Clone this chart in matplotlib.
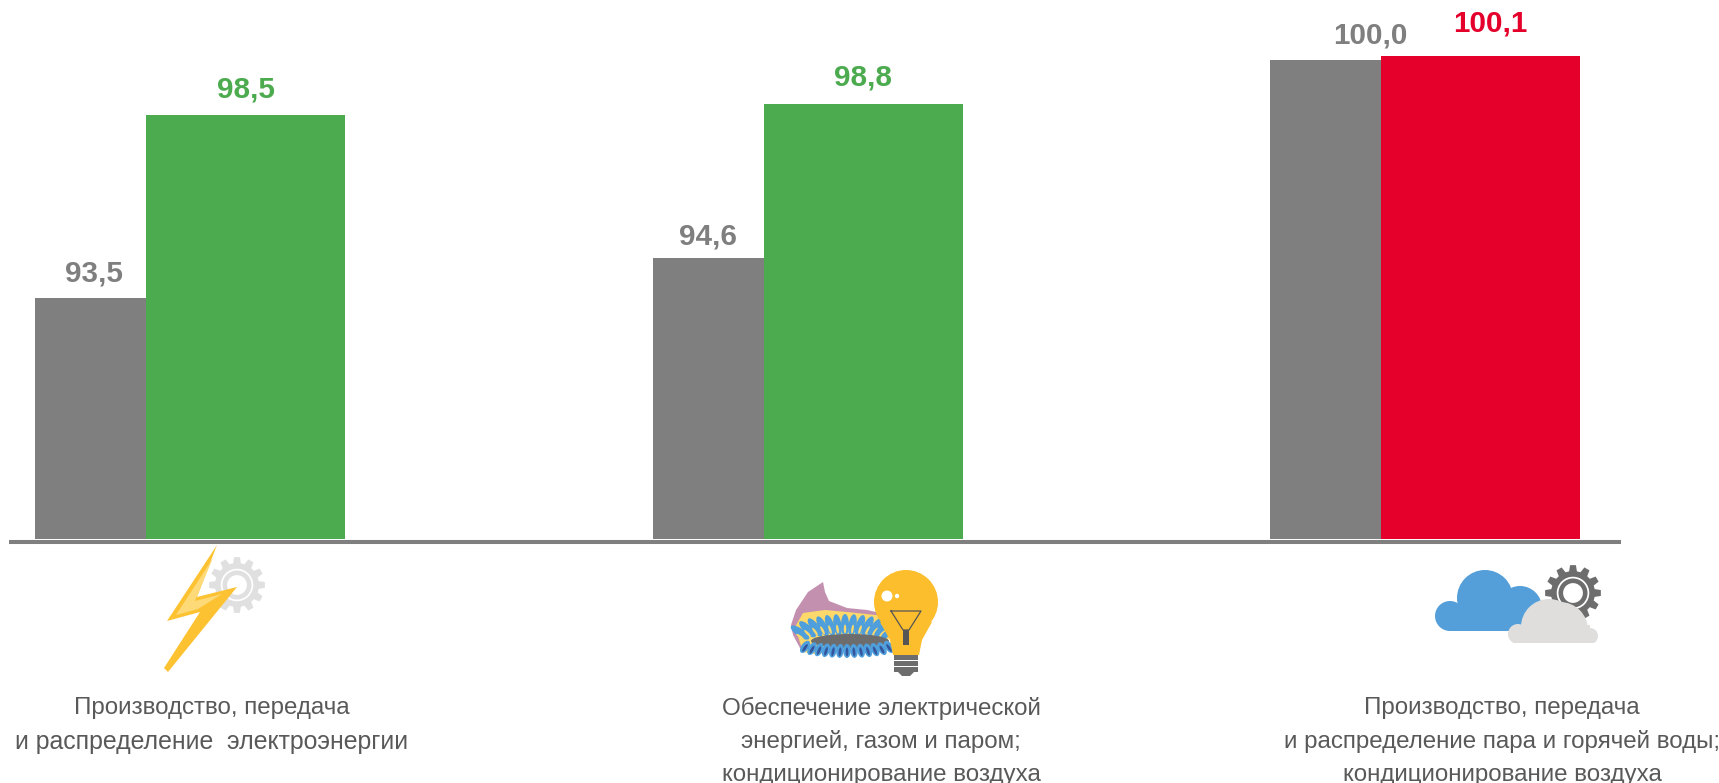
"""
Indices by energy sector: two bars per group, pictograms and captions below.
"""

import numpy as np
import matplotlib
matplotlib.use("Agg")
import matplotlib.pyplot as plt
from matplotlib.patches import Circle, Ellipse, Polygon, Rectangle

plt.rcParams["font.family"] = ["Liberation Sans", "DejaVu Sans"]

# -------------------------------------------------
# Data
# -------------------------------------------------

captions = [
    ["Производство, передача", "и распределение  электроэнергии"],
    ["Обеспечение электрической", "энергией, газом и паром;", "кондиционирование воздуха"],
    ["Производство, передача", "и распределение пара и горячей воды;", "кондиционирование воздуха"],
]
previous_values = [93.5, 94.6, 100.0]
current_values = [98.5, 98.8, 100.1]
previous_labels = ["93,5", "94,6", "100,0"]
current_labels = ["98,5", "98,8", "100,1"]

GREY = "#7f7f7f"
GREEN = "#4caa4f"
RED = "#e4002b"
current_colors = [GREEN, GREEN, RED]

# label offsets from the bar's top centre, in pixels (the source nudges them by hand)
previous_offsets = [(4, 16), (0, 13), (45, 17)]
current_offsets = [(0, 17), (0, 18), (10, 25)]

# -------------------------------------------------
# Figure and bar axes
# -------------------------------------------------

W, H = 1719, 783
fig = plt.figure(figsize=(W / 100, H / 100), dpi=100)

# axes bottom sits on the bar baseline, top on the figure edge
base_px = 539
ax = fig.add_axes([0, 1 - base_px / H, 1, base_px / H])
ax.set_ylim(86.91, 101.64)
group_px = 617.5
ax.set_xlim(-146 / group_px, (W - 146) / group_px)
ax.axis("off")

x = np.arange(len(captions))
grey_width = 111 / group_px
color_width = 199.2 / group_px

ax.bar(x, previous_values, width=-grey_width, align="edge", color=GREY)
ax.bar(x, current_values, width=color_width, align="edge", color=current_colors)

for i in x:
    ax.annotate(previous_labels[i], (i - grey_width / 2, previous_values[i]),
                xytext=previous_offsets[i], textcoords="offset pixels",
                ha="center", va="baseline",
                color=GREY, fontsize=21.3, fontweight="bold")
    ax.annotate(current_labels[i], (i + color_width / 2, current_values[i]),
                xytext=current_offsets[i], textcoords="offset pixels",
                ha="center", va="baseline",
                color=current_colors[i], fontsize=21.3, fontweight="bold")

# -------------------------------------------------
# Overlay in pixel coordinates for the axis line, icons, captions
# -------------------------------------------------

ov = fig.add_axes([0, 0, 1, 1], facecolor="none")
ov.set_xlim(0, W)
ov.set_ylim(H, 0)
ov.axis("off")

ov.plot([9, 1621], [542, 542], color="#7f7f7f", lw=2.9, solid_capstyle="butt")


def gear(cx, cy, r_out, r_in, teeth, color):
    angles = []
    radii = []
    step = 2 * np.pi / teeth
    for k in range(teeth):
        a = k * step
        angles += [a - step * 0.34, a - step * 0.20, a + step * 0.20, a + step * 0.34]
        radii += [r_in, r_out, r_out, r_in]
    angles = np.array(angles)
    radii = np.array(radii)
    pts = np.column_stack([cx + radii * np.cos(angles), cy + radii * np.sin(angles)])
    ov.add_patch(Polygon(pts, closed=True, fc=color, ec="none"))
    ov.add_patch(Circle((cx, cy), r_in * 0.74, fc="white", ec="none"))
    ov.add_patch(Circle((cx, cy), r_in * 0.66, fc=color, ec="none"))
    ov.add_patch(Circle((cx, cy), r_in * 0.45, fc="white", ec="none"))


# lightning and light gear
gear(237, 585, 28, 22, 12, "#e0e0e0")
ov.add_patch(Polygon([(217, 545), (197, 597), (237, 587), (168, 672), (164, 668),
                      (200, 612), (167, 621)], closed=True, fc="#fcc231", ec="none"))
ov.add_patch(Polygon([(213, 558), (195, 601), (222, 594), (198, 609), (176, 615)],
                     closed=True, fc="#fdd978", ec="none"))

# burner flame
ov.add_patch(Polygon([(823, 582), (825, 592), (829, 601), (847, 608), (867, 610), (885, 614),
                      (885, 650), (815, 652), (800, 648), (793, 635), (791, 625), (796, 610), (808, 592)],
                     closed=True, fc="#c490b0", ec="none"))
ov.add_patch(Polygon([(795, 627), (803, 613), (825, 610), (847, 612), (885, 616), (890, 650),
                      (815, 654), (803, 652)],
                     closed=True, fc="#fdd96b", ec="none"))
for k in np.linspace(-1, 1, 13):
    ex, ey = 845 + 45 * k, 636 - 11 * np.sqrt(1 - (k * 0.95) ** 2)
    ov.add_patch(Ellipse((ex, ey), 8, 22, angle=55 * k, fc="#4f9fdc", ec="none"))
    ov.add_patch(Ellipse((ex, ey + 4), 2.4, 9, angle=55 * k, fc="#fdd96b", ec="none"))
ov.add_patch(Ellipse((850, 641), 78, 14, fc="#6d6d6d", ec="none"))
for k in np.linspace(-1, 1, 13):
    ex, ey = 847 + 42 * k, 645 + 6 * np.sqrt(1 - (k * 0.95) ** 2)
    ov.add_patch(Ellipse((ex, ey), 7.5, 14, angle=-35 * k, fc="#4f9fdc", ec="none"))
    ov.add_patch(Ellipse((ex, ey + 1), 2.8, 9, angle=-35 * k, fc="#34559b", ec="none"))

# bulb
ov.add_patch(Circle((906, 602), 32, fc="#fdbe2d", ec="none"))
ov.add_patch(Polygon([(880, 622), (932, 622), (922, 640), (919, 655), (893, 655), (890, 640)],
                     closed=True, fc="#fdbe2d", ec="none"))
ov.add_patch(Circle((887, 596), 5.5, fc="white", ec="none"))
ov.add_patch(Circle((897, 596), 2.2, fc="white", ec="none"))
ov.plot([891, 921, 909, 903, 891], [611, 611, 630, 630, 611], color="#555555", lw=0.9)
ov.add_patch(Rectangle((903, 630), 6, 15, fc="#555555", ec="none"))
for y_line in [655, 661, 667]:
    ov.add_patch(Rectangle((894, y_line), 24, 4.5, fc="#6d6d6d", ec="none"))
ov.add_patch(Polygon([(897, 671), (915, 671), (910, 676), (902, 676)], closed=True,
                     fc="#6d6d6d", ec="none"))

# clouds and dark gear
gear(1573, 593, 28, 22, 12, "#6d6d6d")
for cx, cy, r in [(1485, 598, 28), (1450, 616, 15), (1520, 608, 22)]:
    ov.add_patch(Circle((cx, cy), r, fc="#549fd9", ec="none"))
ov.add_patch(Rectangle((1450, 610), 85, 21, fc="#549fd9", ec="none"))
for cx, cy, r in [(1549, 627, 28), (1560, 630, 28), (1518, 634, 10), (1590, 636, 8)]:
    ov.add_patch(Circle((cx, cy), r, fc="#dfdedd", ec="none"))
ov.add_patch(Rectangle((1518, 625), 72, 18, fc="#dfdedd", ec="none"))
ov.add_patch(Rectangle((1500, 643), 110, 30, fc="white", ec="none"))

# captions, one text per line because the source spacing is not uniform
caption_x = [212, 881, 1502]
line_y = [708, 741.5, 775]
for cx, lines in zip(caption_x, captions):
    for row, line in enumerate(lines):
        size = 17.9 if line.endswith("электроэнергии") else 17.4
        ov.text(cx, line_y[row], line, ha="center", va="center", color="#595959",
                fontsize=size, clip_on=False)

fig.savefig("out.png", dpi=100)
